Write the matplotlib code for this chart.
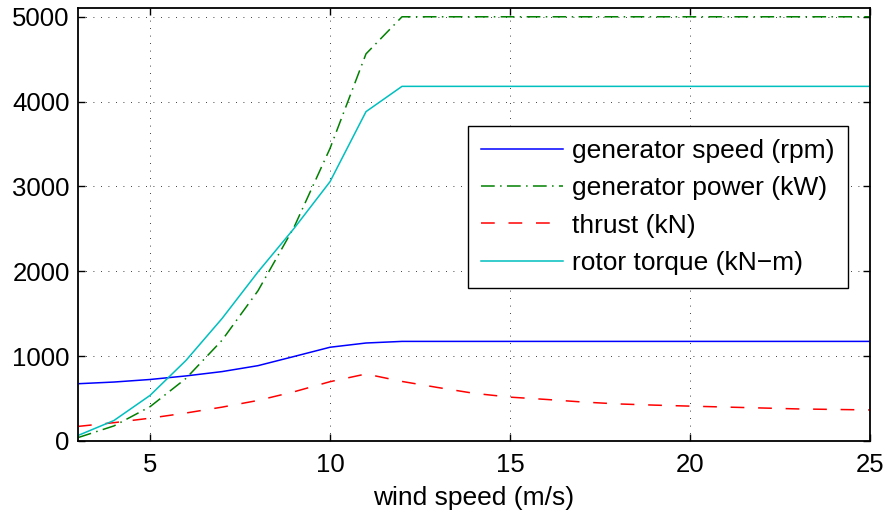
import numpy as np
import matplotlib
matplotlib.use('Agg')
import matplotlib.pyplot as plt

plt.rcParams['font.family'] = ['Liberation Sans', 'DejaVu Sans']

# wind speed 3..25 m/s
wind_speed = [3, 4, 5, 6, 7, 8, 9, 10, 11, 12, 13, 14, 15, 16, 17, 18, 19, 20, 21, 22, 23, 24, 25]

gen_speed = [675, 695, 725, 767, 818, 888, 996, 1105, 1155, 1174, 1174, 1174, 1174, 1174, 1174,
             1174, 1174, 1174, 1174, 1174, 1174, 1174, 1174]
gen_power = [40, 178, 404, 738, 1187, 1771, 2519, 3448, 4563, 5000, 5000, 5000, 5000, 5000, 5000,
             5000, 5000, 5000, 5000, 5000, 5000, 5000, 5000]
thrust = [172, 216, 269, 330, 399, 478, 580, 699, 790, 702, 630, 562, 517, 490, 460,
          437, 423, 411, 400, 389, 378, 372, 366]
rotor_torque = [65, 242, 537, 950, 1443, 1993, 2505, 3056, 3882, 4180, 4180, 4180, 4180, 4180, 4180,
                4180, 4180, 4180, 4180, 4180, 4180, 4180, 4180]

fig = plt.figure(figsize=(8.88, 5.12), dpi=100)
ax = fig.add_axes([78 / 888, 71 / 512, 792 / 888, 432.7 / 512])

ax.plot(wind_speed, gen_speed, color=(0, 0, 1), lw=1.1, label='generator speed (rpm)')
ax.plot(wind_speed, gen_power, color=(0, 0.5, 0), lw=1.1, dashes=(9, 3.5, 1, 3.5),
        label='generator power (kW)')
ax.plot(wind_speed, thrust, color=(1, 0, 0), lw=1.1, dashes=(9, 9), label='thrust (kN)')
ax.plot(wind_speed, rotor_torque, color=(0, 0.75, 0.75), lw=1.1, label='rotor torque (kN\u2212m)')

ax.set_xlim(3, 25)
ax.set_ylim(0, 5100)
ax.set_xticks([5, 10, 15, 20, 25])
ax.set_yticks([0, 1000, 2000, 3000, 4000, 5000])
ax.grid(True, color='black', linestyle=(0, (1, 8)), lw=0.6)
ax.tick_params(direction='in', top=True, right=True, length=5, width=1, labelsize=18.5)
ax.tick_params(axis='x', pad=9)
ax.tick_params(axis='y', pad=6)
for s in ax.spines.values():
    s.set_linewidth(1.3)
ax.set_xlabel('wind speed (m/s)', fontsize=19, labelpad=6)

leg = ax.legend(loc='upper right', bbox_to_anchor=(0.972, 0.728), borderaxespad=0,
                fontsize=19, handlelength=3.1, handletextpad=0.34, labelspacing=0.5,
                fancybox=False, framealpha=1, edgecolor='black', borderpad=0.5)
leg.get_frame().set_linewidth(1.0)

fig.savefig('out.png', dpi=100)
